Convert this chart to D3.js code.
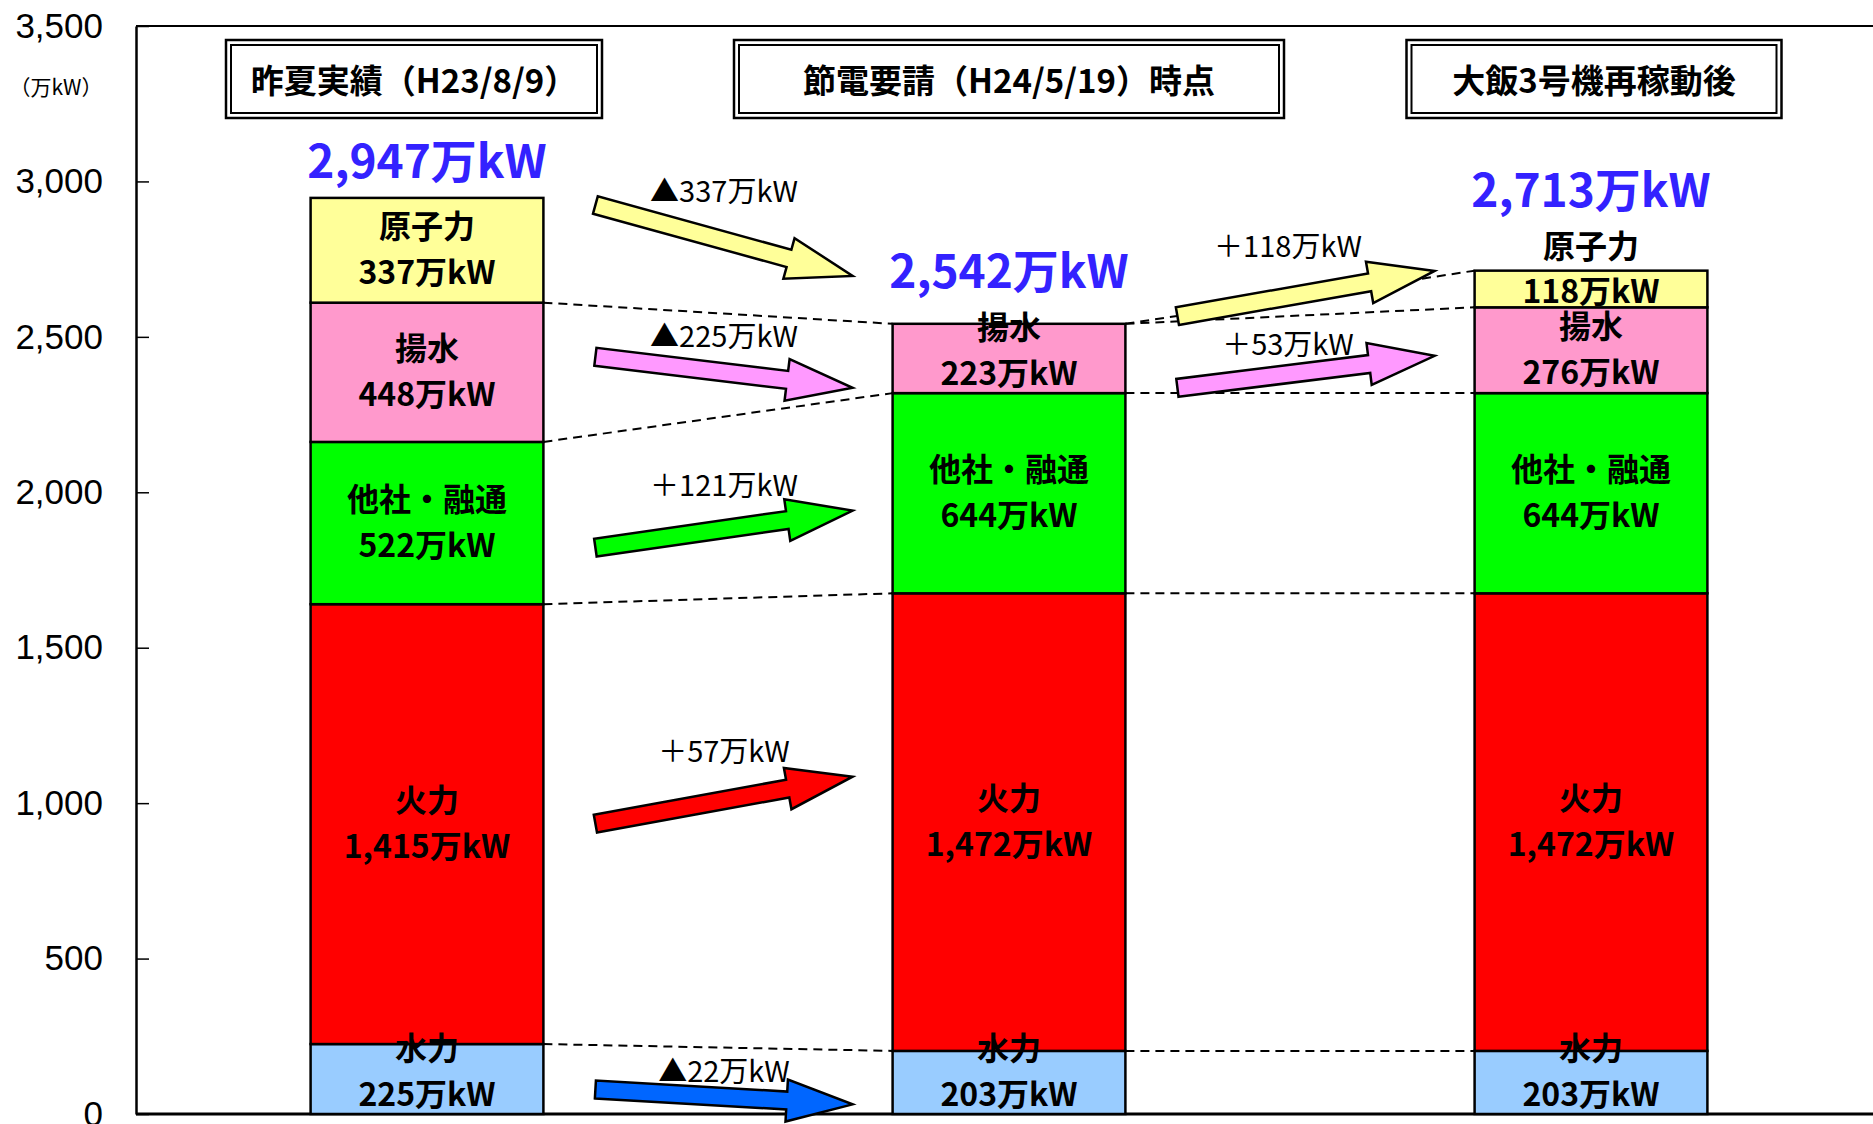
<!DOCTYPE html>
<html>
<head>
<meta charset="utf-8">
<script src="https://cdn.jsdelivr.net/npm/d3@7"></script>
<style>
    body { margin: 0; background: #fff; }
    svg { display: block; }
</style>
</head>
<body>
<div id="chart"></div>
<script>
// --- data (単位: 万kW) ---
const scenarios = ["昨夏実績（H23/8/9）", "節電要請（H24/5/19）時点", "大飯3号機再稼動後"];
const sources = ["水力", "火力", "他社・融通", "揚水", "原子力"];
const hydro = [225, 203, 203];
const thermal = [1415, 1472, 1472];
const otherCo = [522, 644, 644];
const pumped = [448, 223, 276];
const nuclear = [337, 0, 118];
const totals = [2947, 2542, 2713];
const yTicks = [0, 500, 1000, 1500, 2000, 2500, 3000, 3500];

// change arrows between scenarios
const arrowPair = [0, 0, 0, 0, 0, 1, 1];           // from scenario i to i+1
const arrowSource = [4, 3, 2, 1, 0, 4, 3];         // index into sources
const arrowChange = [-337, -225, 121, 57, -22, 118, 53];

// arrow layout (in axis units, so it goes through the y scale)
const arrowFromVal = [2924, 2436, 1822, 934, 79, 2567, 2336];
const arrowToVal = [2696, 2336, 1941, 1085, 31, 2712, 2439];
const arrowLabelDy = [-38, -25, -33, -38, -15, -36, -17];
const arrowLabelDx = [0, 0, 0, 0, 0, -18, -18];

const colours = ["#99ccff", "#ff0000", "#00ff00", "#ff99cc", "#ffff99"];
const arrowColours = ["#0066ff", "#ff0000", "#00ff00", "#ff99ff", "#ffff99"];
const headerWidths = [376, 550, 375];
const headerShift = [-13, 0, 3];

const width = 1873, height = 1124;
const margin = { top: 26, left: 136, bottom: 10 };
const jp = "'Noto Sans CJK JP', 'Noto Sans', sans-serif";

const svg = d3.select("#chart").append("svg")
    .attr("width", width)
    .attr("height", height)
    .attr("viewBox", [0, 0, width, height]);

const x = d3.scaleBand()
    .domain(d3.range(scenarios.length))
    .range([margin.left, margin.left + 582 * 3])
    .paddingInner(0.6)
    .paddingOuter(0.3);

const y = d3.scaleLinear()
    .domain([0, 3500])
    .range([height - margin.bottom, margin.top]);

const series = [hydro, thermal, otherCo, pumped, nuclear];
const stacks = scenarios.map((_, i) => {
    let base = 0;
    return series.map((s, k) => {
        const seg = { bar: i, k, v: s[i], y0: base, y1: base + s[i] };
        base += s[i];
        return seg;
    });
});

// frame: top and bottom lines
svg.append("line")
    .attr("x1", margin.left).attr("x2", width)
    .attr("y1", y(3500)).attr("y2", y(3500))
    .attr("stroke", "#000").attr("stroke-width", 2);
svg.append("line")
    .attr("x1", margin.left).attr("x2", width)
    .attr("y1", y(0)).attr("y2", y(0))
    .attr("stroke", "#000").attr("stroke-width", 3);

const yAxis = svg.append("g")
    .attr("transform", `translate(${margin.left},0)`)
    .call(d3.axisLeft(y).tickValues(yTicks).tickFormat(d3.format(","))
        .tickSize(-13).tickSizeOuter(0).tickPadding(33));
yAxis.select(".domain").attr("stroke-width", 2.5);
yAxis.selectAll(".tick line").attr("stroke-width", 1.5);
yAxis.selectAll("text")
    .attr("font-family", "'Liberation Sans', Arial, sans-serif")
    .attr("font-size", 35)
    .attr("fill", "#000");

svg.append("text")
    .attr("x", 56).attr("y", 95)
    .attr("text-anchor", "middle")
    .attr("font-family", jp)
    .attr("font-size", 21)
    .text("（万kW）");

// dashed connectors between neighbouring bars
const connectors = [];
for (let i = 0; i < scenarios.length - 1; i++) {
    stacks[i].forEach((seg, k) => {
        if (stacks[i + 1][k].v > 0) {
            connectors.push({ i, a: seg.y1, b: stacks[i + 1][k].y1 });
        }
    });
}
svg.append("g")
    .selectAll("line")
    .data(connectors)
    .join("line")
    .attr("x1", (d) => x(d.i) + x.bandwidth())
    .attr("x2", (d) => x(d.i + 1))
    .attr("y1", (d) => y(d.a))
    .attr("y2", (d) => y(d.b))
    .attr("stroke", "#000")
    .attr("stroke-width", 2)
    .attr("stroke-dasharray", "9,6");

// stacked bars
svg.append("g")
    .selectAll("rect")
    .data(stacks.flat().filter((d) => d.v > 0))
    .join("rect")
    .attr("x", (d) => x(d.bar))
    .attr("y", (d) => y(d.y1))
    .attr("width", x.bandwidth())
    .attr("height", (d) => y(d.y0) - y(d.y1))
    .attr("fill", (d) => colours[d.k])
    .attr("stroke", "#000")
    .attr("stroke-width", 2.5);

// arrows
function arrowPath(x0, y0, x1, y1) {
    const dx = x1 - x0, dy = y1 - y0, len = Math.hypot(dx, dy);
    const ux = dx / len, uy = dy / len, nx = -uy, ny = ux;
    const sw = 9, hw = 21, hl = 66;
    const bx = x1 - ux * hl, by = y1 - uy * hl;
    const pts = [
        [x0 + nx * sw, y0 + ny * sw],
        [bx + nx * sw, by + ny * sw],
        [bx + nx * hw, by + ny * hw],
        [x1, y1],
        [bx - nx * hw, by - ny * hw],
        [bx - nx * sw, by - ny * sw],
        [x0 - nx * sw, y0 - ny * sw]
    ];
    return "M" + pts.map((p) => p.join(",")).join("L") + "Z";
}

const arrows = arrowChange.map((c, j) => {
    const i = arrowPair[j];
    const x0 = x(i) + x.bandwidth() + 52;
    const x1 = x(i + 1) - 40;
    return {
        x0, x1,
        y0: y(arrowFromVal[j]),
        y1: y(arrowToVal[j]),
        k: arrowSource[j],
        label: (c < 0 ? "▲" : "＋") + Math.abs(c) + "万kW",
        dx: arrowLabelDx[j],
        dy: arrowLabelDy[j]
    };
});

const arrowG = svg.append("g");
arrowG.selectAll("path")
    .data(arrows)
    .join("path")
    .attr("d", (d) => arrowPath(d.x0, d.y0, d.x1, d.y1))
    .attr("fill", (d) => arrowColours[d.k])
    .attr("stroke", "#000")
    .attr("stroke-width", 2.5)
    .attr("stroke-linejoin", "miter");

arrowG.selectAll("text")
    .data(arrows)
    .join("text")
    .attr("x", (d) => (d.x0 + d.x1) / 2 + d.dx)
    .attr("y", (d) => (d.y0 + d.y1) / 2 + d.dy)
    .attr("text-anchor", "middle")
    .attr("font-family", jp)
    .attr("font-size", 29)
    .attr("fill", "#000")
    .text((d) => d.label);

// segment labels
const fmt = d3.format(",");
const labels = [];
const topOfLabels = scenarios.map((_, i) => y(totals[i]));
stacks.flat().filter((d) => d.v > 0).forEach((d) => {
    const top = y(d.y1), bottom = y(d.y0);
    const c = (top + bottom) / 2;
    const cx = x(d.bar) + x.bandwidth() / 2;
    let nameY, valueY;
    if (bottom - top < 50) {
        valueY = c;
        nameY = top - 27;
    } else {
        valueY = Math.min(c + 20, bottom - 22);
        nameY = valueY - 46;
    }
    labels.push({ cx, y: nameY, text: sources[d.k] });
    labels.push({ cx, y: valueY, text: fmt(d.v) + "万kW" });
    topOfLabels[d.bar] = Math.min(topOfLabels[d.bar], nameY - 17);
});

svg.append("g")
    .selectAll("text")
    .data(labels)
    .join("text")
    .attr("x", (d) => d.cx)
    .attr("y", (d) => d.y)
    .attr("dominant-baseline", "central")
    .attr("text-anchor", "middle")
    .attr("font-family", jp)
    .attr("font-weight", 700)
    .attr("font-size", 32)
    .attr("fill", "#000")
    .text((d) => d.text);

// totals
svg.append("g")
    .selectAll("text")
    .data(totals)
    .join("text")
    .attr("x", (d, i) => x(i) + x.bandwidth() / 2)
    .attr("y", (d, i) => topOfLabels[i] - 20)
    .attr("text-anchor", "middle")
    .attr("font-family", jp)
    .attr("font-weight", 700)
    .attr("font-size", 46)
    .attr("fill", "#3322ff")
    .text((d) => fmt(d) + "万kW");

// scenario header boxes with double border
const headers = svg.append("g")
    .selectAll("g")
    .data(scenarios)
    .join("g")
    .attr("transform", (d, i) => `translate(${x(i) + x.bandwidth() / 2 + headerShift[i]},0)`);

headers.append("rect")
    .attr("x", (d, i) => -headerWidths[i] / 2)
    .attr("y", 40)
    .attr("width", (d, i) => headerWidths[i])
    .attr("height", 78)
    .attr("fill", "#fff")
    .attr("stroke", "#000")
    .attr("stroke-width", 2.5);

headers.append("rect")
    .attr("x", (d, i) => -headerWidths[i] / 2 + 5)
    .attr("y", 45)
    .attr("width", (d, i) => headerWidths[i] - 10)
    .attr("height", 68)
    .attr("fill", "none")
    .attr("stroke", "#000")
    .attr("stroke-width", 2);

headers.append("text")
    .attr("y", 79)
    .attr("dominant-baseline", "central")
    .attr("text-anchor", "middle")
    .attr("font-family", jp)
    .attr("font-weight", 700)
    .attr("font-size", 33)
    .attr("fill", "#000")
    .text((d) => d);
</script>
</body>
</html>
